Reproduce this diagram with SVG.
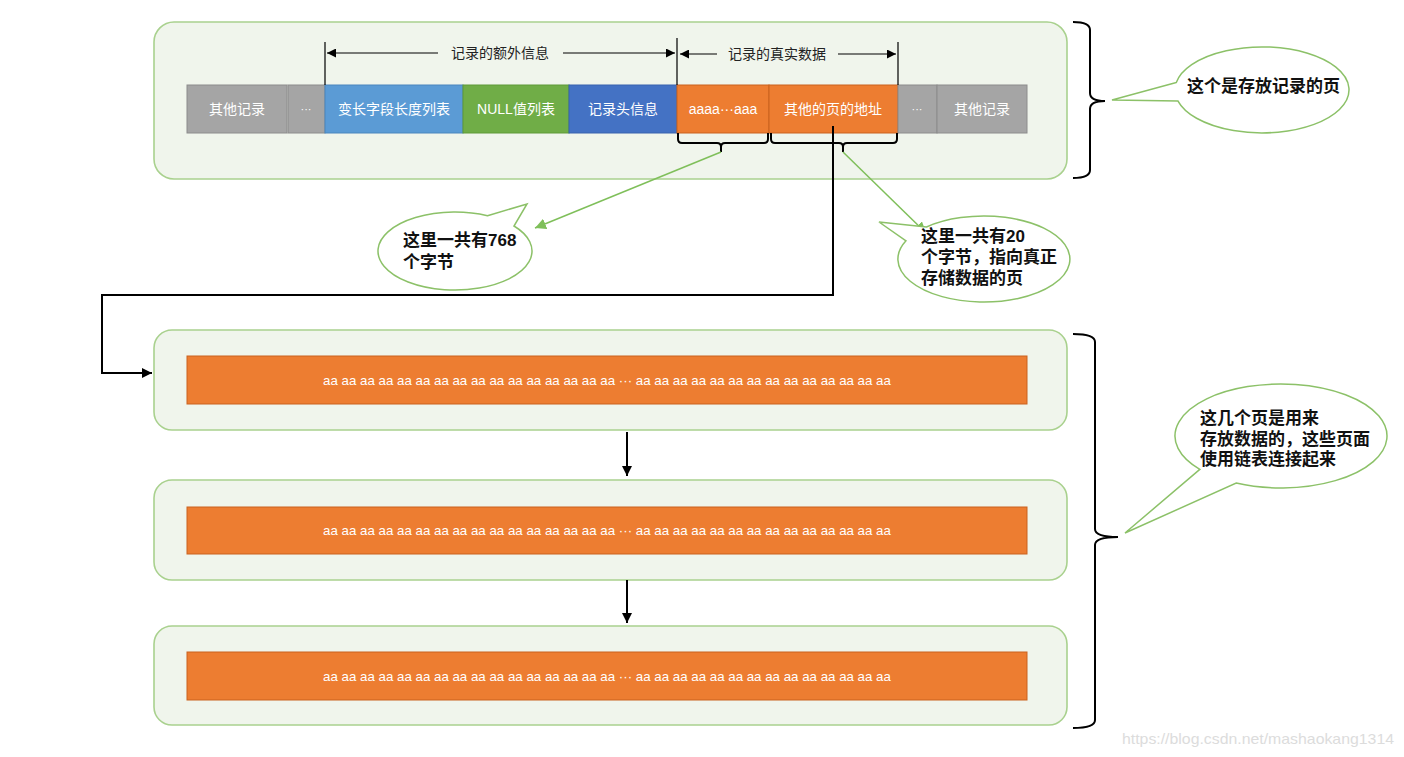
<svg xmlns="http://www.w3.org/2000/svg" width="1404" height="757" viewBox="0 0 1404 757">
<style>
.page{fill:#f0f5ec;stroke:#a9d18e;stroke-width:1.6}
.cell{stroke-width:1}
.gray{fill:#a5a5a5;stroke:#8c8c8c}
.blue{fill:#5b9bd5;stroke:#4a86bd}
.green{fill:#70ad47;stroke:#5e9a38}
.dblue{fill:#4472c4;stroke:#3862ad}
.orange{fill:#ed7d31;stroke:#c9621f}
.ct{font-family:"Liberation Sans","Noto Sans CJK SC",sans-serif;font-size:14px;fill:#ffffff;text-anchor:middle}
.row{font-family:"Liberation Sans","Noto Sans CJK SC",sans-serif;font-size:13.3px;fill:#ffffff;text-anchor:middle}
.dim{font-family:"Liberation Sans","Noto Sans CJK SC",sans-serif;font-size:14px;fill:#222222;text-anchor:middle}
.blk{fill:none;stroke:#000000;stroke-width:2}
.thin{fill:none;stroke:#000000;stroke-width:1.2}
.garr{fill:none;stroke:#7fbf5a;stroke-width:1.5}
.bubble{fill:#ffffff;stroke:#8cc168;stroke-width:1.5}
.bt{font-family:"Liberation Sans","Noto Sans CJK SC",sans-serif;font-size:17px;font-weight:bold;fill:#111111}
.wm{font-family:"Liberation Sans",sans-serif;font-size:15px;fill:#dcdcdc}
</style>
<defs>
<marker id="dimR" viewBox="0 0 10 10" refX="10" refY="5" markerWidth="9" markerHeight="9" markerUnits="userSpaceOnUse" orient="auto"><path d="M0,0 L10,5 L0,10 Z" fill="#000"/></marker>
<marker id="ah" viewBox="0 0 10 10" refX="10" refY="5" markerWidth="10" markerHeight="10" markerUnits="userSpaceOnUse" orient="auto"><path d="M0,0 L10,5 L0,10 Z" fill="#000"/></marker>
<marker id="gah" viewBox="0 0 10 10" refX="10" refY="5" markerWidth="11" markerHeight="11" markerUnits="userSpaceOnUse" orient="auto"><path d="M0,0 L10,5 L0,10 Z" fill="#7fbf5a"/></marker>
</defs>

<g id="record-page">
<rect class="page" x="154" y="22" width="913" height="157" rx="20"/>
<rect class="cell gray" x="187" y="85" width="100" height="48"/>
<text class="ct" x="237" y="114">其他记录</text>
<rect class="cell gray" x="288" y="85" width="37" height="48"/>
<text class="ct" x="306" y="113" style="font-size:11px">···</text>
<rect class="cell blue" x="325" y="85" width="138" height="48"/>
<text class="ct" x="394" y="114">变长字段长度列表</text>
<rect class="cell green" x="463" y="85" width="106" height="48"/>
<text class="ct" x="516" y="114">NULL值列表</text>
<rect class="cell dblue" x="569" y="85" width="108" height="48"/>
<text class="ct" x="623" y="114">记录头信息</text>
<rect class="cell orange" x="677" y="85" width="92" height="48"/>
<text class="ct" x="723" y="114">aaaa···aaa</text>
<rect class="cell orange" x="769" y="85" width="129" height="48"/>
<text class="ct" x="833" y="114">其他的页的地址</text>
<rect class="cell gray" x="898" y="85" width="39" height="48"/>
<text class="ct" x="917" y="113" style="font-size:11px">···</text>
<rect class="cell gray" x="937" y="85" width="90" height="48"/>
<text class="ct" x="982" y="114">其他记录</text>
</g>

<g id="dimensions">
<path class="thin" d="M325,42 V85 M677,38 V85 M898,42 V85"/>
<path class="thin" d="M438,53 H327" marker-end="url(#dimR)"/>
<path class="thin" d="M563,53 H675" marker-end="url(#dimR)"/>
<path class="thin" d="M717,54 H680" marker-end="url(#dimR)"/>
<path class="thin" d="M838,54 H896" marker-end="url(#dimR)"/>
<text class="dim" x="500" y="58">记录的额外信息</text>
<text class="dim" x="777" y="59">记录的真实数据</text>
</g>

<g id="braces">
<path class="blk" d="M678,133 V139 Q678,143 682,143 H717 Q721,143 721,147 V152 M721,147 Q721,143 725,143 H764 Q768,143 768,139 V133"/>
<path class="blk" d="M771,133 V139 Q771,143 775,143 H839 Q843,143 843,147 V152 M843,147 Q843,143 847,143 H893 Q897,143 897,139 V133"/>
<path class="blk" d="M1073,22 Q1090,22 1090,30 V93 Q1090,101 1105,101 Q1090,101 1090,109 V170 Q1090,178 1073,178"/>
<path class="blk" d="M1073,334 Q1095,334 1095,342 V529 Q1095,537 1118,537 Q1095,537 1095,545 V720 Q1095,728 1073,728"/>
</g>

<g id="data-page-1">
<rect class="page" x="154" y="330" width="913" height="100" rx="18"/>
<rect class="cell orange" x="187" y="356" width="840" height="48"/>
<text class="row" x="607" y="385">aa aa aa aa aa aa aa aa aa aa aa aa aa aa aa aa ··· aa aa aa aa aa aa aa aa aa aa aa aa aa aa</text>
</g>
<g id="data-page-2">
<rect class="page" x="154" y="480" width="913" height="100" rx="18"/>
<rect class="cell orange" x="187" y="507" width="840" height="47"/>
<text class="row" x="607" y="535">aa aa aa aa aa aa aa aa aa aa aa aa aa aa aa aa ··· aa aa aa aa aa aa aa aa aa aa aa aa aa aa</text>
</g>
<g id="data-page-3">
<rect class="page" x="154" y="626" width="913" height="99" rx="18"/>
<rect class="cell orange" x="187" y="652" width="840" height="48"/>
<text class="row" x="607" y="681">aa aa aa aa aa aa aa aa aa aa aa aa aa aa aa aa ··· aa aa aa aa aa aa aa aa aa aa aa aa aa aa</text>
</g>

<g id="connectors">
<path class="blk" d="M833,126 V295 H102 V373 H152" marker-end="url(#ah)"/>
<path class="blk" d="M627,432 V476" marker-end="url(#ah)"/>
<path class="blk" d="M627,580 V623" marker-end="url(#ah)"/>
<path class="garr" d="M721,152 L535,228" marker-end="url(#gah)"/>
<path class="garr" d="M843,152 L926,233" marker-end="url(#gah)"/>
</g>

<g id="callout-768">
<path class="bubble" d="M487.5,215.7 L527,204 L514,226 A77,39 0 1 1 487.5,215.7 Z"/>
<text class="bt" x="403" y="246">这里一共有768<tspan x="403" dy="22">个字节</tspan></text>
</g>
<g id="callout-20">
<path class="bubble" d="M926.5,227 L879,222 L906,240.8 A86,43 0 1 0 926.5,227 Z"/>
<text class="bt" x="921" y="242">这里一共有20<tspan x="921" dy="21">个字节，指向真正</tspan><tspan x="921" dy="21">存储数据的页</tspan></text>
</g>
<g id="callout-record-page">
<path class="bubble" d="M1176.3,82.5 L1112,100 L1178,101.1 A87,43 0 1 0 1176.3,82.5 Z"/>
<text class="bt" x="1187" y="92">这个是存放记录的页</text>
</g>
<g id="callout-data-pages">
<path class="bubble" d="M1199.8,469.4 L1125,533 L1236.2,483.1 A106,52 0 1 0 1199.8,469.4 Z"/>
<text class="bt" x="1200" y="424">这几个页是用来<tspan x="1200" dy="20.5">存放数据的，这些页面</tspan><tspan x="1200" dy="20.5">使用链表连接起来</tspan></text>
</g>

<text class="wm" x="1122" y="744" textLength="272" lengthAdjust="spacingAndGlyphs">https://blog.csdn.net/mashaokang1314</text>
</svg>
